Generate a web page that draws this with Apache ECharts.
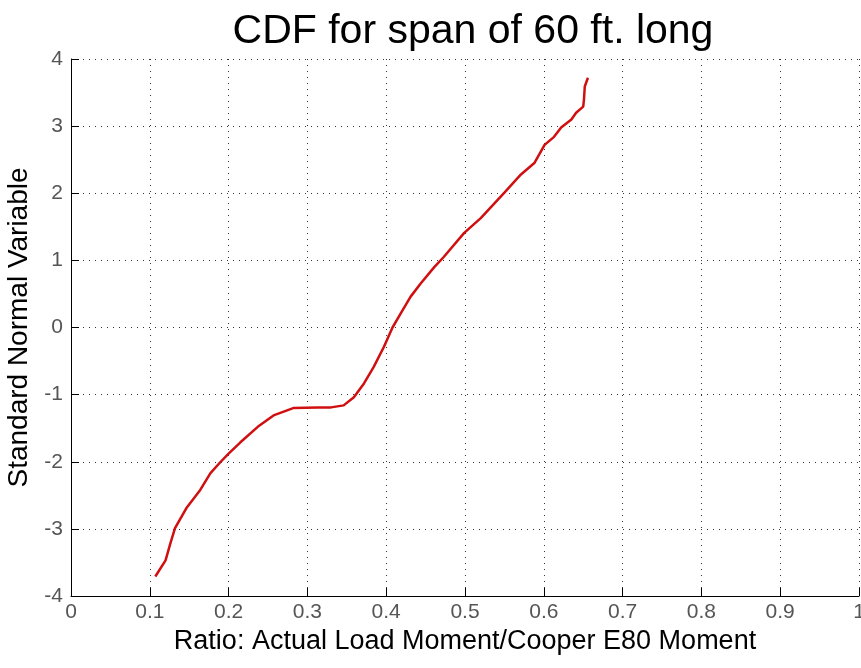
<!DOCTYPE html>
<html><head><meta charset="utf-8">
<script src="https://cdn.jsdelivr.net/npm/echarts@6/dist/echarts.min.js"></script>
<style>html,body{margin:0;padding:0;background:#fff}#c{width:861px;height:668px}</style>
</head><body><div id="c"></div>
<script>
const titleText = 'CDF for span of 60 ft. long';
const xName = 'Ratio: Actual Load Moment/Cooper E80 Moment';
const yName = 'Standard Normal Variable';
const ratio = [0.107,0.120,0.126,0.132,0.147,0.164,0.177,0.190,0.200,0.215,0.237,0.257,0.282,0.313,0.330,0.346,0.359,0.372,0.384,0.397,0.408,0.419,0.431,0.444,0.461,0.473,0.499,0.520,0.550,0.571,0.588,0.601,0.613,0.622,0.635,0.641,0.650,0.651,0.652,0.656];
const snv = [-3.71,-3.47,-3.22,-2.99,-2.68,-2.42,-2.17,-2.00,-1.88,-1.71,-1.48,-1.31,-1.20,-1.19,-1.19,-1.16,-1.04,-0.83,-0.59,-0.29,0.00,0.22,0.46,0.66,0.90,1.05,1.41,1.63,2.01,2.28,2.45,2.72,2.84,2.98,3.10,3.20,3.29,3.40,3.59,3.72];
const data = ratio.map((r,i)=>[r,snv[i]]);
const font = 'Liberation Sans, Arial, sans-serif';
const chart = echarts.init(document.getElementById('c'));
chart.setOption({
  animation:false,
  backgroundColor:'#fff',
  title:{text:titleText,left:468,textAlign:'center',top:6,textStyle:{fontFamily:font,fontSize:41,fontWeight:'normal',color:'#000'}},
  grid:{left:71,right:2,top:59,bottom:72,containLabel:false,outerBoundsMode:'none'},
  xAxis:{type:'value',min:0,max:1,interval:0.1,
    name:xName,nameLocation:'middle',nameGap:18,nameTextStyle:{fontFamily:font,fontSize:27,color:'#000'},
    axisLine:{onZero:false,lineStyle:{color:'#000',width:1}},
    axisTick:{inside:true,length:8,lineStyle:{color:'#000'}},
    axisLabel:{fontFamily:font,fontSize:21,color:'#555',margin:6,formatter:v=>String(+v.toFixed(1))},
    splitLine:{show:true,lineStyle:{color:'#333',type:[1,5],width:1}}},
  yAxis:{type:'value',min:-4,max:4,interval:1,
    name:yName,nameLocation:'middle',nameGap:35,nameRotate:90,nameTextStyle:{fontFamily:font,fontSize:28,color:'#000'},
    axisLine:{onZero:false,lineStyle:{color:'#000',width:1}},
    axisTick:{inside:true,length:8,lineStyle:{color:'#000'}},
    axisLabel:{fontFamily:font,fontSize:21,color:'#555',margin:8},
    splitLine:{show:true,lineStyle:{color:'#333',type:[1,5],width:1}}},
  series:[{type:'line',data:data,showSymbol:false,lineStyle:{color:'#d01010',width:2.5},smooth:false}]
});
</script></body></html>
